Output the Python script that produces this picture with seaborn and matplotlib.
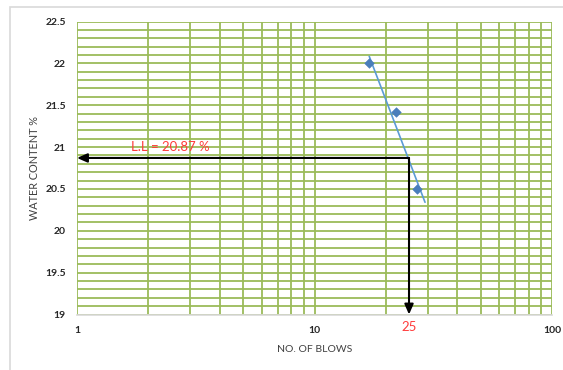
"""
Liquid limit flow curve: water content vs. number of blows (log scale)

Usage:
    python plot.py
"""
import numpy as np
import pandas as pd
import matplotlib
matplotlib.use("Agg")
import matplotlib.pyplot as plt
from matplotlib.patches import Rectangle
from matplotlib.ticker import FixedLocator, LogLocator, MultipleLocator, NullFormatter
import seaborn as sns

# Casagrande cup readings
blows = [17, 22, 27]
water_content = [22.01, 21.42, 20.50]

# Range covered by the log trendline (forecast a little past the last point)
trend_blows = [17, 29.2]

# Liquid limit read at 25 blows
ll_blows = 25
ll_value = 20.87

x_ticks = [1, 10, 100]
x_tick_labels = ["1", "10", "100"]
y_ticks = [19, 19.5, 20, 20.5, 21, 21.5, 22, 22.5]
y_tick_labels = ["19", "19.5", "20", "20.5", "21", "21.5", "22", "22.5"]

GRID_GREEN = "#9BBB59"
POINT_BLUE = "#4A7EBB"
LINE_BLUE = "#5B9BD5"
TEXT_GREY = "#404040"
LL_RED = "#FF3B3B"


def log_trend(x, y, x_range):
    """Excel-style logarithmic trendline y = a*log10(x) + b"""
    coef = np.polyfit(np.log10(x), y, 1)
    return np.polyval(coef, np.log10(x_range))


def main():
    sns.set_theme(style="white")
    plt.rcParams["font.family"] = ["Lato", "DejaVu Sans"]

    fig = plt.figure(figsize=(5.63, 3.70), dpi=100)
    ax = fig.add_axes([77 / 563, 1 - 314.5 / 370, 475 / 563, 293 / 370])

    points = pd.DataFrame({"blows": blows, "water": water_content})
    trend = pd.DataFrame({"blows": trend_blows,
                          "water": log_trend(blows, water_content, trend_blows)})

    ax.set_xscale("log")
    ax.set_xlim(x_ticks[0], x_ticks[-1])
    ax.set_ylim(y_ticks[0], y_ticks[-1])

    # Grid: every decade subdivision and every 0.1 %
    ax.xaxis.set_major_locator(FixedLocator(x_ticks))
    ax.set_xticklabels(x_tick_labels)
    ax.xaxis.set_minor_locator(LogLocator(base=10, subs=np.arange(2, 10)))
    ax.xaxis.set_minor_formatter(NullFormatter())
    ax.set_yticks(y_ticks)
    ax.set_yticklabels(y_tick_labels)
    ax.yaxis.set_minor_locator(MultipleLocator(0.1))
    ax.grid(which="both", color=GRID_GREEN, linewidth=1.3)
    ax.set_axisbelow(True)

    for side in ["top", "right", "left"]:
        ax.spines[side].set_visible(False)
    ax.spines["bottom"].set_color("#D9D9D9")
    ax.spines["bottom"].set_linewidth(1.2)
    ax.spines["bottom"].set_zorder(3)

    ax.tick_params(which="both", length=0)
    ax.tick_params(axis="x", pad=8, labelsize=7.5, labelcolor="#262626")
    ax.tick_params(axis="y", pad=8, labelsize=7.5, labelcolor="#262626")
    for lbl in ax.get_xticklabels() + ax.get_yticklabels():
        lbl.set_fontweight("bold")

    sns.lineplot(data=trend, x="blows", y="water", ax=ax, color=LINE_BLUE,
                 linewidth=1.2, zorder=4)
    sns.scatterplot(data=points, x="blows", y="water", ax=ax, marker="D",
                    s=24, color=POINT_BLUE, edgecolor=POINT_BLUE, zorder=5)

    # Liquid limit construction lines
    arrow = dict(arrowstyle="-|>,head_length=0.5,head_width=0.22", color="black",
                 linewidth=1.5, shrinkA=0, shrinkB=0)
    ax.annotate("", xy=(x_ticks[0], ll_value), xytext=(ll_blows, ll_value),
                arrowprops=arrow, zorder=6)
    ax.annotate("", xy=(ll_blows, y_ticks[0]), xytext=(ll_blows, ll_value),
                arrowprops=arrow, zorder=6)

    ax.text(2.46, 21.0, f"L.L = {ll_value} %", color=LL_RED, fontsize=9.5,
            ha="center", va="center", zorder=7)
    ax.text(ll_blows, -0.043, str(ll_blows), color=LL_RED, fontsize=9.5,
            ha="center", va="center", transform=ax.get_xaxis_transform())

    ax.set_xlabel("NO. OF BLOWS", fontsize=7.5, color=TEXT_GREY)
    ax.set_ylabel("WATER CONTENT %", fontsize=7.8, color=TEXT_GREY)
    ax.xaxis.set_label_coords(0.5, -(349 - 314.5) / 293)
    ax.xaxis.label.set_va("center")
    ax.yaxis.set_label_coords(-(77 - 35) / 475, 0.5)
    ax.yaxis.label.set_va("center")

    # Chart area frame
    fig.patches.append(Rectangle((10 / 563, -0.1), 2, 1.1 - 7 / 370,
                                 transform=fig.transFigure, fill=False,
                                 edgecolor="#D9D9D9", linewidth=1.2))

    fig.savefig("out.png", dpi=100)


if __name__ == "__main__":
    main()
